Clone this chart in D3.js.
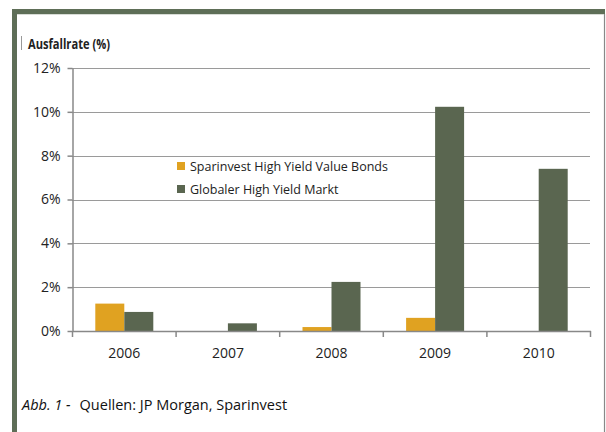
<!DOCTYPE html>
<html><head><meta charset="utf-8">
<script src="https://cdn.jsdelivr.net/npm/d3@7"></script>
<style>body{margin:0;background:#fff}svg{display:block}text{font-family:"Open Sans","Liberation Sans",sans-serif}</style>
</head><body>
<script>
const years = ["2006","2007","2008","2009","2010"];
const seriesNames = ["Sparinvest High Yield Value Bonds","Globaler High Yield Markt"];
const sparinvest = [1.25, 0, 0.18, 0.6, 0];
const globaler = [0.87, 0.35, 2.24, 10.23, 7.4];
const yTicks = [0,2,4,6,8,10,12];
const colors = ["#E0A221","#5A6650"];

const W=606,H=432;
const svg=d3.select("body").append("svg").attr("width",W).attr("height",H);
// frame
svg.append("rect").attr("x",12).attr("y",9).attr("width",593).attr("height",5).attr("fill","#5E6E57");
svg.append("rect").attr("x",12).attr("y",9).attr("width",5).attr("height",H).attr("fill","#5E6E57");
svg.append("line").attr("x1",604.5).attr("x2",604.5).attr("y1",14).attr("y2",H).attr("stroke","#888").attr("stroke-width",1.2);
svg.append("line").attr("x1",17).attr("x2",604).attr("y1",14.5).attr("y2",14.5).attr("stroke","#d8dcd6").attr("stroke-width",1);

const x0=d3.scaleBand().domain(years).range([72.5,590.5]).paddingInner(0).paddingOuter(0);
const y=d3.scaleLinear().domain([0,12]).range([331,68]);
const x1=d3.scaleBand().domain([0,1]).range([0,58]);

// title
svg.append("line").attr("x1",21.5).attr("x2",21.5).attr("y1",36).attr("y2",50).attr("stroke","#999");
svg.append("text").attr("x",28).attr("y",48.5).attr("font-size",14.5).attr("font-weight","bold").attr("fill","#222")
 .attr("textLength",82).attr("lengthAdjust","spacingAndGlyphs").text("Ausfallrate (%)");

// gridlines
svg.append("g").selectAll("line").data(yTicks.filter(d=>d>0)).join("line")
 .attr("x1",72).attr("x2",590).attr("y1",d=>Math.round(y(d))+0.5).attr("y2",d=>Math.round(y(d))+0.5)
 .attr("stroke","#9a9a9a").attr("stroke-width",1);

// y axis
const ya=svg.append("g").attr("transform","translate(72.5,0)")
 .call(d3.axisLeft(y).tickValues(yTicks).tickFormat(d=>d+"%").tickSize(5).tickSizeOuter(0));
ya.select(".domain").attr("stroke","#888").attr("stroke-width",1.5);
ya.selectAll(".tick line").attr("stroke","#888").attr("stroke-width",1.5);
ya.selectAll("text").attr("font-size",14).attr("fill","#222").attr("x",-12).attr("font-family","Open Sans");

// bars
const data=years.map((yr,i)=>({yr,vals:[sparinvest[i],globaler[i]]}));
const g=svg.append("g").selectAll("g").data(data).join("g")
 .attr("transform",d=>`translate(${x0(d.yr)+(x0.bandwidth()-58)/2},0)`);
g.selectAll("rect").data(d=>d.vals.map((v,k)=>({v,k}))).join("rect")
 .attr("x",d=>x1(d.k)).attr("width",x1.bandwidth())
 .attr("y",d=>y(d.v)).attr("height",d=>y(0)-y(d.v)).attr("fill",d=>colors[d.k]);

// x axis
const xa=svg.append("g").attr("transform","translate(0,331)")
 .call(d3.axisBottom(x0).tickSize(0));
xa.select(".domain").attr("stroke","#888").attr("stroke-width",1.5);
xa.selectAll("text").attr("font-size",14).attr("fill","#222").attr("dy","0").attr("y",27).attr("font-family","Open Sans");
svg.append("g").selectAll("line").data(years.concat(["end"])).join("line")
 .attr("x1",(d,i)=>x0.range()[0]+i*x0.bandwidth()).attr("x2",(d,i)=>x0.range()[0]+i*x0.bandwidth())
 .attr("y1",331).attr("y2",337).attr("stroke","#888").attr("stroke-width",1.5);

// legend
const lg=svg.append("g").selectAll("g").data(seriesNames).join("g")
 .attr("transform",(d,i)=>`translate(177,${166+i*23})`);
lg.append("rect").attr("x",0).attr("y",-4).attr("width",8).attr("height",8).attr("fill",(d,i)=>colors[i]);
lg.append("text").attr("x",13).attr("y",4.5).attr("font-size",12.5).attr("fill","#222").text(d=>d);

// caption
const cap=svg.append("text").attr("x",22).attr("y",410).attr("font-size",14.5).attr("fill","#111");
cap.append("tspan").attr("font-style","italic").text("Abb. 1 -");
cap.append("tspan").attr("dx",9).text("Quellen: JP Morgan, Sparinvest");
</script>
</body></html>
